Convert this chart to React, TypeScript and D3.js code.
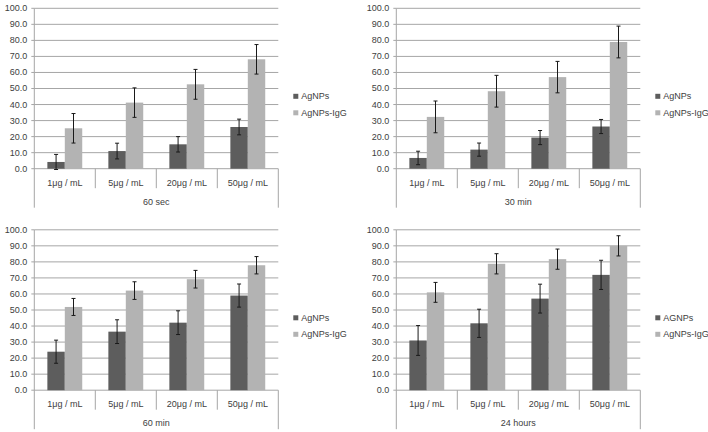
import * as d3 from 'd3'

const categories = ['1μg / mL', '5μg / mL', '20μg / mL', '50μg / mL']
const panelTitles = ['60 sec', '30 min', '60 min', '24 hours']
const darkLabels = ['AgNPs', 'AgNPs', 'AgNPs', 'AGNPs']
const lightLabel = 'AgNPs-IgG'
const yTickValues = [0, 10, 20, 30, 40, 50, 60, 70, 80, 90, 100]

// AgNPs (dark) means and error, per panel
const agnps60sec = [4.2, 11.0, 15.2, 26.0]
const agnps60secErr = [4.7, 4.9, 4.8, 4.9]
const agnps30min = [6.7, 11.9, 19.4, 26.3]
const agnps30minErr = [4.2, 4.1, 4.4, 4.4]
const agnps60min = [24.0, 36.5, 42.1, 59.0]
const agnps60minErr = [7.2, 7.4, 7.4, 7.2]
const agnps24h = [31.0, 41.7, 57.1, 71.9]
const agnps24hErr = [9.3, 8.8, 9.0, 9.1]

// AgNPs-IgG (light) means and error, per panel
const igg60sec = [25.2, 41.2, 52.6, 68.2]
const igg60secErr = [9.2, 9.2, 9.3, 9.2]
const igg30min = [32.3, 48.3, 57.1, 79.0]
const igg30minErr = [9.9, 9.9, 9.8, 9.9]
const igg60min = [51.9, 62.1, 69.2, 77.9]
const igg60minErr = [5.3, 5.5, 5.5, 5.4]
const igg24h = [61.0, 78.8, 81.7, 90.0]
const igg24hErr = [6.2, 6.3, 6.3, 6.3]

const DARK = '#5d5d5d'
const LIGHT = '#b3b3b3'
const GRID = '#a6a6a6'
const TEXT = '#404040'
const FONT = '"Liberation Sans", Arial, sans-serif'

interface PanelProps {
  x: number
  y: number
  title: string
  darkLabel: string
  dark: number[]
  darkErr: number[]
  light: number[]
  lightErr: number[]
}

function Panel({ x, y, title, darkLabel, dark, darkErr, light, lightErr }: PanelProps) {
  const width = 244
  const height = 160.4

  const xScale = d3.scaleBand<string>().domain(categories).range([0, width]).padding(0)
  const yScale = d3.scaleLinear().domain([0, 100]).range([height, 0])
  const barW = xScale.bandwidth() / 3.5
  const fmt = d3.format('.1f')

  const series = [
    { values: dark, err: darkErr, color: DARK, offset: -barW },
    { values: light, err: lightErr, color: LIGHT, offset: 0 },
  ]

  return (
    <g transform={`translate(${x},${y})`} fontFamily={FONT} fontSize={9} fill={TEXT}>
      {/* gridlines and y ticks */}
      {yTickValues.map(t => (
        <g key={t}>
          <line x1={0} x2={width} y1={yScale(t)} y2={yScale(t)} stroke={GRID} strokeWidth={1} />
          <line x1={-3} x2={0} y1={yScale(t)} y2={yScale(t)} stroke={GRID} strokeWidth={1} />
          <text x={-7} y={yScale(t)} textAnchor="end" dominantBaseline="central">
            {fmt(t)}
          </text>
        </g>
      ))}
      <line x1={0} x2={0} y1={0} y2={height + 39} stroke={GRID} strokeWidth={1} />
      <line x1={width} x2={width} y1={height} y2={height + 39} stroke={GRID} strokeWidth={1} />
      {categories.slice(1).map(c => (
        <line key={c} x1={xScale(c)} x2={xScale(c)} y1={height} y2={height + 19.5} stroke={GRID} strokeWidth={1} />
      ))}

      {/* bars */}
      {series.map((s, si) => (
        <g key={si}>
          {categories.map((c, i) => {
            const cx = (xScale(c) ?? 0) + xScale.bandwidth() / 2 + s.offset
            return (
              <rect key={c} x={cx} y={yScale(s.values[i])} width={barW}
                height={height - yScale(s.values[i])} fill={s.color} />
            )
          })}
        </g>
      ))}

      {/* error bars */}
      {series.map((s, si) => (
        <g key={`e${si}`} stroke="#1a1a1a" strokeWidth={1}>
          {categories.map((c, i) => {
            const mx = (xScale(c) ?? 0) + xScale.bandwidth() / 2 + s.offset + barW / 2
            const top = yScale(s.values[i] + s.err[i])
            const bot = yScale(s.values[i] - s.err[i])
            return (
              <g key={c}>
                <line x1={mx} x2={mx} y1={top} y2={bot} />
                <line x1={mx - 2} x2={mx + 2} y1={top} y2={top} />
                <line x1={mx - 2} x2={mx + 2} y1={bot} y2={bot} />
              </g>
            )
          })}
        </g>
      ))}

      {/* category labels */}
      {categories.map(c => (
        <text key={c} x={(xScale(c) ?? 0) + xScale.bandwidth() / 2} y={height + 14}
          textAnchor="middle" dominantBaseline="central">
          {c}
        </text>
      ))}
      <text x={width / 2} y={height + 33} textAnchor="middle" dominantBaseline="central">
        {title}
      </text>

      {/* legend */}
      <g transform={`translate(${width + 15},${88})`}>
        <rect x={0} y={-2.5} width={5} height={5} fill={DARK} />
        <text x={8} y={0} dominantBaseline="central">{darkLabel}</text>
        <rect x={0} y={14} width={5} height={5} fill={LIGHT} />
        <text x={8} y={16.5} dominantBaseline="central">{lightLabel}</text>
      </g>
    </g>
  )
}

export default function App() {
  return (
    <svg width={708} height={432} style={{ position: 'absolute', left: 0, top: 0, background: '#fff' }}>
      <Panel x={34.3} y={8.3} title={panelTitles[0]} darkLabel={darkLabels[0]}
        dark={agnps60sec} darkErr={agnps60secErr} light={igg60sec} lightErr={igg60secErr} />
      <Panel x={396.3} y={8.3} title={panelTitles[1]} darkLabel={darkLabels[1]}
        dark={agnps30min} darkErr={agnps30minErr} light={igg30min} lightErr={igg30minErr} />
      <Panel x={34.3} y={229.8} title={panelTitles[2]} darkLabel={darkLabels[2]}
        dark={agnps60min} darkErr={agnps60minErr} light={igg60min} lightErr={igg60minErr} />
      <Panel x={396.3} y={229.8} title={panelTitles[3]} darkLabel={darkLabels[3]}
        dark={agnps24h} darkErr={agnps24hErr} light={igg24h} lightErr={igg24hErr} />
    </svg>
  )
}
